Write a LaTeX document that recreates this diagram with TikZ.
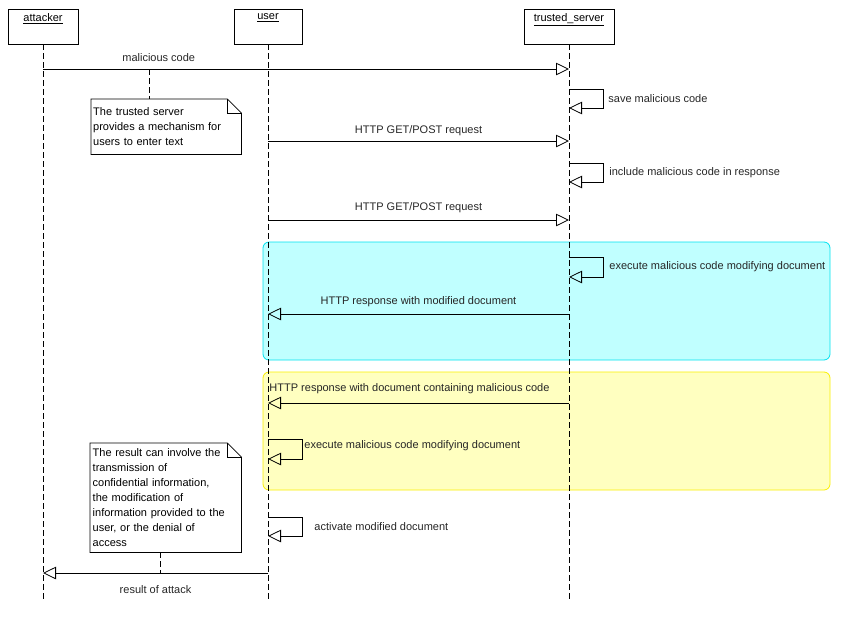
\documentclass[tikz,border=0pt]{standalone}
\usepackage{fontspec}
\setmainfont{Liberation Sans}
\usetikzlibrary{arrows.meta}

\definecolor{cyanfill}{RGB}{192,255,255}
\definecolor{cyanline}{RGB}{0,226,240}
\definecolor{yellowfill}{RGB}{255,255,192}
\definecolor{yellowline}{RGB}{250,240,0}

\def \loopWidth {34}
\def \dogEar {14pt}

\tikzset{
  head/.style={draw, line width=0.8pt, minimum height=35pt, inner sep=0pt},
  headlabel/.style={anchor=north, inner sep=2pt, yshift=-3pt},
  lifeline/.style={line width=0.8pt, dash pattern=on 6pt off 3pt},
  msg/.style={line width=0.8pt, -{Triangle[open, length=13pt, width=12.5pt]}},
  msglabel/.style={anchor=base, text=black!85},
  selflabel/.style={right, inner sep=0pt, xshift=5pt, text=black!85},
  notebox/.style={anchor=north west, minimum width=150pt, text width=146pt,
    align=left, inner sep=2pt},
  noteline/.style={line width=0.8pt},
  notelink/.style={line width=0.8pt, dash pattern=on 6pt off 3pt},
}

\begin{document}
\begin{tikzpicture}[x=1pt, y=-1pt, font=\fontsize{11}{15}\selectfont]
  \useasboundingbox (0,0) rectangle (844,622);

  % combined fragments
  \draw[cyanline, fill=cyanfill, line width=0.8pt, rounded corners=6pt] (263,242) rectangle (830,360);
  \draw[yellowline, fill=yellowfill, line width=0.8pt, rounded corners=6pt] (263,372) rectangle (830,490);

  % lifelines
  \node[head, minimum width=70pt] (attacker) at (43,26.5) {};
  \node[head, minimum width=68pt] (user) at (268,26.5) {};
  \node[head, minimum width=90pt] (server) at (569,26.5) {};
  \node[headlabel] (attackerlabel) at (attacker.north) {\underline{attacker}};
  \node[headlabel] (userlabel) at (user.north) {\underline{user}};
  \node[headlabel] (serverlabel) at (server.north) {\underline{trusted\_server}};

  \coordinate (attackerend) at (43,602);
  \coordinate (userend) at (268,602);
  \coordinate (serverend) at (569,602);
  \draw[lifeline] (attacker) -- (attackerend);
  \draw[lifeline] (user) -- (userend);
  \draw[lifeline] (server) -- (serverend);

  % message levels
  \coordinate (y1) at (0,69);
  \coordinate (y2) at (0,89);   \coordinate (y2b) at (0,108);
  \coordinate (y3) at (0,141);
  \coordinate (y4) at (0,163);  \coordinate (y4b) at (0,182);
  \coordinate (y5) at (0,220);
  \coordinate (y6) at (0,257);  \coordinate (y6b) at (0,277);
  \coordinate (y7) at (0,314);
  \coordinate (y8) at (0,403);
  \coordinate (y9) at (0,439);  \coordinate (y9b) at (0,459);
  \coordinate (y10) at (0,517); \coordinate (y10b) at (0,536);
  \coordinate (y11) at (0,573);

  % messages
  \draw[msg] (attacker |- y1) -- node[msglabel, pos=0.22, yshift=8pt] {malicious code} (server |- y1);
  \draw[msg] (server |- y2) -- ++(\loopWidth,0) -- node[selflabel] {save malicious code} ++(0,19) -- (server |- y2b);
  \draw[msg] (user |- y3) -- node[msglabel, yshift=8pt] {HTTP GET/POST request} (server |- y3);
  \draw[msg] (server |- y4) -- ++(\loopWidth,0) -- node[selflabel, xshift=1pt] {include malicious code in response} ++(0,19) -- (server |- y4b);
  \draw[msg] (user |- y5) -- node[msglabel, yshift=10pt] {HTTP GET/POST request} (server |- y5);
  \draw[msg] (server |- y6) -- ++(\loopWidth,0) -- node[selflabel, xshift=1pt] {execute malicious code modifying document} ++(0,20) -- (server |- y6b);
  \draw[msg] (server |- y7) -- node[msglabel, yshift=10pt] {HTTP response with modified document} (user |- y7);
  \draw[msg] (server |- y8) -- node[msglabel, pos=0.53, yshift=12pt] {HTTP response with document containing malicious code} (user |- y8);
  \draw[msg] (user |- y9) -- ++(\loopWidth,0) -- node[selflabel, xshift=-3pt, yshift=3pt] {execute malicious code modifying document} ++(0,20) -- (user |- y9b);
  \draw[msg] (user |- y10) -- ++(\loopWidth,0) -- node[selflabel, xshift=7pt] {activate modified document} ++(0,19) -- (user |- y10b);
  \draw[msg] (user |- y11) -- node[msglabel, yshift=-20pt] {result of attack} (attacker |- y11);

  % notes
  \node[notebox, minimum height=55pt] (note1) at (91,99)
    {The trusted server\\provides a mechanism for\\users to enter text};
  \draw[noteline] (note1.north west) -- ([xshift=-\dogEar]note1.north east)
    -- ([yshift=-\dogEar]note1.north east) -- (note1.south east) -- (note1.south west) -- cycle;
  \draw[noteline] ([xshift=-\dogEar]note1.north east) |- ([yshift=-\dogEar]note1.north east);
  \coordinate (link1) at (149,69);
  \draw[notelink] (link1) -- (link1 |- note1.north);

  \node[notebox, minimum width=151pt, minimum height=109pt] (note2) at (90,443)
    {The result can involve the\\transmission of\\confidential information,\\the modification of\\information provided to the\\user, or the denial of\\access};
  \draw[noteline] (note2.north west) -- ([xshift=-\dogEar]note2.north east)
    -- ([yshift=-\dogEar]note2.north east) -- (note2.south east) -- (note2.south west) -- cycle;
  \draw[noteline] ([xshift=-\dogEar]note2.north east) |- ([yshift=-\dogEar]note2.north east);
  \coordinate (link2) at (160,573);
  \draw[notelink] (note2.south -| link2) -- (link2);
\end{tikzpicture}
\end{document}
